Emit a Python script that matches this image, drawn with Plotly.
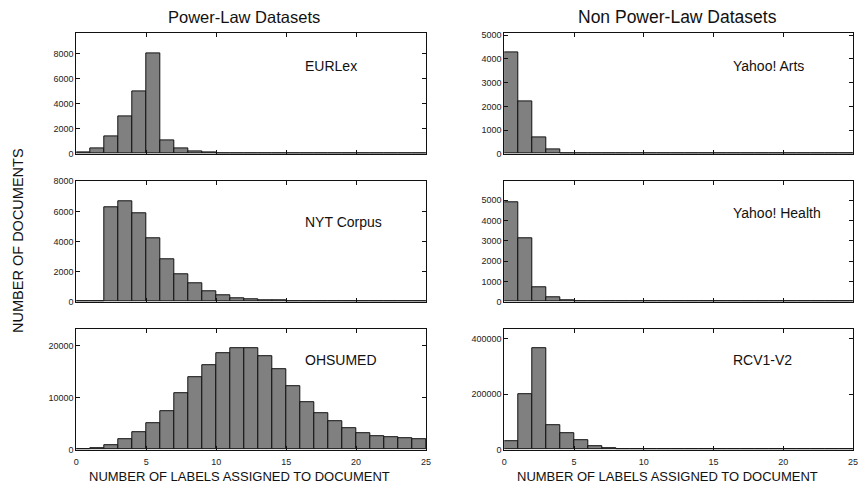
import plotly.graph_objects as go

W, H = 860, 486

# ---------------- data ----------------
bin_left = list(range(25))  # label-count bins 0..24 (width 1)

eurlex = [150, 400, 1400, 3000, 4950, 8000, 1100, 470, 230, 80, 40, 30, 25, 20, 18,
          15, 12, 10, 10, 8, 8, 6, 6, 5, 5]
nyt = [0, 0, 6300, 6700, 5900, 4200, 2850, 1800, 1200, 700, 450, 250, 180, 100, 80,
       40, 30, 20, 15, 10, 10, 8, 6, 5, 5]
ohsumed = [100, 250, 875, 1940, 3310, 5000, 7440, 10810, 13810, 16250, 18500, 19400,
           19400, 17940, 15500, 12190, 9125, 7060, 5375, 4060, 3250, 2625, 2375, 2190, 1940]
yahoo_arts = [4250, 2220, 690, 180, 40, 15, 12, 10, 10, 8, 8, 6, 6, 5, 5, 5, 5,
              0, 0, 0, 0, 0, 0, 0, 0]
yahoo_health = [4890, 3110, 720, 210, 60, 10, 8, 6, 5, 5, 4, 4, 3, 3, 3, 2, 2, 2,
                2, 2, 1, 1, 1, 1, 1]
rcv1 = [30600, 202000, 366000, 87000, 61000, 34000, 13000, 6000, 3000, 1500, 800, 500,
        400, 300, 200, 150, 100, 0, 0, 0, 0, 0, 0, 0, 0]

names = ["EURLex", "NYT Corpus", "OHSUMED", "Yahoo! Arts", "Yahoo! Health", "RCV1-V2"]
series = [eurlex, nyt, ohsumed, yahoo_arts, yahoo_health, rcv1]
y_max = [9600, 8000, 23100, 5070, 5930, 435000]
y_dtick = [2000, 2000, 10000, 1000, 1000, 200000]
x_ticks = [0, 5, 10, 15, 20, 25]

col_titles = ["Power-Law Datasets", "Non Power-Law Datasets"]
x_title = "NUMBER OF LABELS ASSIGNED TO DOCUMENT"
y_title = "NUMBER OF DOCUMENTS"

# ---------------- layout helpers (pixels -> paper) ----------------
def px_x(p):
    return p / W

def px_y(p):
    return 1 - p / H

col_px = [(74, 427), (506, 858)]
row_px = [(29, 152), (180, 303), (331, 454)]

FONT = "Liberation Sans, Arial, sans-serif"
centers = [b + 0.5 for b in bin_left]

fig = go.Figure()
layout = dict(
    width=W, height=H,
    margin=dict(l=0, r=0, t=0, b=0),
    paper_bgcolor="white", plot_bgcolor="white",
    showlegend=False,
    font=dict(family=FONT, color="#222222"),
    bargap=0,
)

annotations = []
for i, (name, vals) in enumerate(zip(names, series)):
    col = i // 3
    row = i % 3
    k = i + 1
    xa = "x" if k == 1 else f"x{k}"
    ya = "y" if k == 1 else f"y{k}"
    fig.add_trace(go.Bar(
        x=centers, y=vals, width=[1] * len(vals),
        marker=dict(color="#808080", line=dict(color="#111111", width=1)),
        xaxis=xa, yaxis=ya,
    ))
    x0, x1 = col_px[col]
    yt, yb = row_px[row]
    layout["xaxis" if k == 1 else f"xaxis{k}"] = dict(
        domain=[px_x(x0), px_x(x1)], anchor=ya, range=[0, 25],
        tickvals=x_ticks, showticklabels=(row == 2),
        ticks="inside", ticklen=4, tickcolor="#111111",
        showline=True, linecolor="#111111", linewidth=1, mirror="ticks",
        showgrid=False, zeroline=False, ticklabelstandoff=4,
        tickfont=dict(size=9, family=FONT, color="#222222"),
    )
    layout["yaxis" if k == 1 else f"yaxis{k}"] = dict(
        domain=[px_y(yb), px_y(yt)], anchor=xa, range=[0, y_max[i]],
        dtick=y_dtick[i], tick0=0, tickformat="d",
        ticks="inside", ticklen=4, tickcolor="#111111",
        showline=True, linecolor="#111111", linewidth=1, mirror="ticks",
        showgrid=False, zeroline=False,
        tickfont=dict(size=9, family=FONT, color="#222222"),
    )
    # dataset name label
    label_x = 303 if col == 0 else 735
    label_y = 62 if row == 0 else (222 if (row == 1 and col == 0) else (212 if row == 1 else 362))
    annotations.append(dict(
        text=name, xref="paper", yref="paper",
        x=px_x(label_x), y=px_y(label_y), xanchor="left", yanchor="middle",
        showarrow=False, font=dict(size=14, family=FONT, color="#111111"),
    ))

# column titles
annotations.append(dict(text=col_titles[0], xref="paper", yref="paper",
                        x=px_x(243), y=px_y(12), xanchor="center", yanchor="middle",
                        showarrow=False, font=dict(size=16.5, family=FONT, color="#111111")))
annotations.append(dict(text=col_titles[1], xref="paper", yref="paper",
                        x=px_x(681), y=px_y(12), xanchor="center", yanchor="middle",
                        showarrow=False, font=dict(size=17.5, family=FONT, color="#111111")))
# x titles under each column
for cx in (239, 671):
    annotations.append(dict(text=x_title, xref="paper", yref="paper",
                            x=px_x(cx), y=px_y(490), xanchor="center", yanchor="bottom",
                            borderpad=0, showarrow=False,
                            font=dict(size=13, family=FONT, color="#111111")))
# shared y title
annotations.append(dict(text=y_title, xref="paper", yref="paper",
                        x=px_x(15), y=px_y(241), xanchor="center", yanchor="middle",
                        textangle=-90, showarrow=False,
                        font=dict(size=14.5, family=FONT, color="#111111")))

layout["annotations"] = annotations
fig.update_layout(**layout)
fig.write_html(
    "out.html",
    config={"displayModeBar": False},
    post_script="document.body.style.margin='0';document.body.style.padding='0';"
                "document.body.style.overflow='hidden';",
)
